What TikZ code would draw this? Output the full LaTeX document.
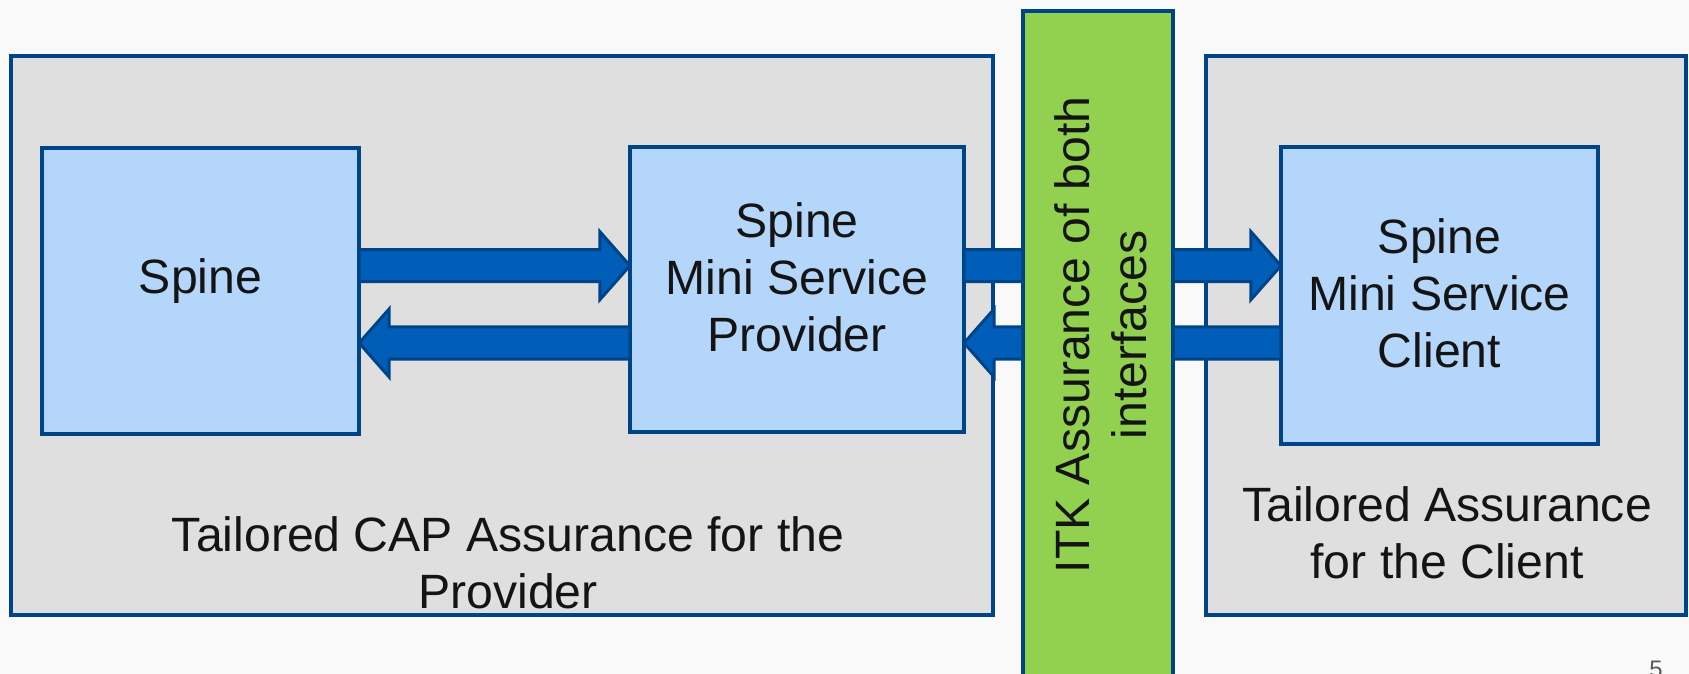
\documentclass[tikz,border=0pt]{standalone}
\usepackage{fontspec}
\setmainfont{Liberation Sans}
\usepackage{tikz}
\usetikzlibrary{calc}

\definecolor{boxline}{RGB}{0,68,136}
\definecolor{arrowfill}{RGB}{0,94,184}
\definecolor{bluefill}{RGB}{180,214,250}
\definecolor{greyfill}{RGB}{223,223,223}
\definecolor{itkgreen}{RGB}{146,208,80}
\definecolor{pagebg}{RGB}{249,249,249}
\definecolor{pagenum}{RGB}{89,89,89}
\definecolor{ink}{RGB}{20,20,20}

\tikzset{side/.style={draw=boxline, fill=greyfill, line width=0.04cm}}
\tikzset{part/.style={draw=boxline, fill=bluefill, line width=0.04cm}}
\tikzset{interface/.style={draw=boxline, fill=itkgreen, line width=0.04cm}}
\tikzset{fatarrow/.style={draw=boxline, fill=arrowfill, line width=0.03cm, line join=miter}}

% block arrow from #1 to #2 (horizontal)
\newcommand{\flowarrow}[2]{%
	\draw[fatarrow] let \p1=(#1), \p2=(#2), \n1={sign(\x2-\x1)*0.3cm} in
		(\x1,{\y1+0.16cm}) -- ({\x2-\n1},{\y1+0.16cm}) -- ({\x2-\n1},{\y1+0.34cm}) -- (\x2,\y1)
		-- ({\x2-\n1},{\y1-0.34cm}) -- ({\x2-\n1},{\y1-0.16cm}) -- (\x1,{\y1-0.16cm}) -- cycle;}

\begin{document}
\begin{tikzpicture}[x=0.01cm, y=-0.01cm]
	% Default action for each node
	\tikzstyle{every node}=[inner sep=0pt, outer sep=0pt, align=center, text=ink, font=\fontsize{13.7}{16.2}\selectfont];

	\fill[pagebg] (0,0) rectangle (1689,674);
	\useasboundingbox (0,0) rectangle (1689,674);

	% SIDES
	\node[side, minimum width=9.82cm, minimum height=5.59cm] (provside) at (502,335.5) {};
	\node[side, minimum width=4.80cm, minimum height=5.59cm] (clientside) at (1446,335.5) {};

	\node (provlabel) at (508,562.7) {Tailored CAP Assurance for the\\Provider};
	\node (clientlabel) at (1447,532.5) {Tailored Assurance\\for the Client};

	% PARTS
	\node[part, minimum width=3.17cm, minimum height=2.86cm, text depth=8.2pt] (spine) at (200.5,290.8) {Spine};
	\node[part, minimum width=3.34cm, minimum height=2.85cm, text depth=6.8pt] (provider) at (797,289.2) {Spine\\Mini Service\\Provider};
	\node[part, minimum width=3.17cm, minimum height=2.97cm, text depth=1.6pt] (client) at (1439.5,295.5) {Spine\\Mini Service\\Client};

	% Arrows
	\coordinate (upper lane) at (0,265.7);
	\coordinate (lower lane) at (0,343);

	\flowarrow{spine.east |- upper lane}{provider.west |- upper lane}
	\flowarrow{provider.west |- lower lane}{spine.east |- lower lane}

	\flowarrow{provider.east |- upper lane}{client.west |- upper lane}
	\flowarrow{client.west |- lower lane}{provider.east |- lower lane}

	% ITK
	\node[interface, minimum width=1.50cm, minimum height=7.09cm] (itk) at (1098,365.5) {};
	\node[rotate=90] (itk text) at (1101,335) {ITK Assurance of both\\interfaces};

	% page number
	\node[text=pagenum, font=\fontsize{6.8}{8}\selectfont, anchor=base] (page) at (1656,677) {5};
\end{tikzpicture}
\end{document}
